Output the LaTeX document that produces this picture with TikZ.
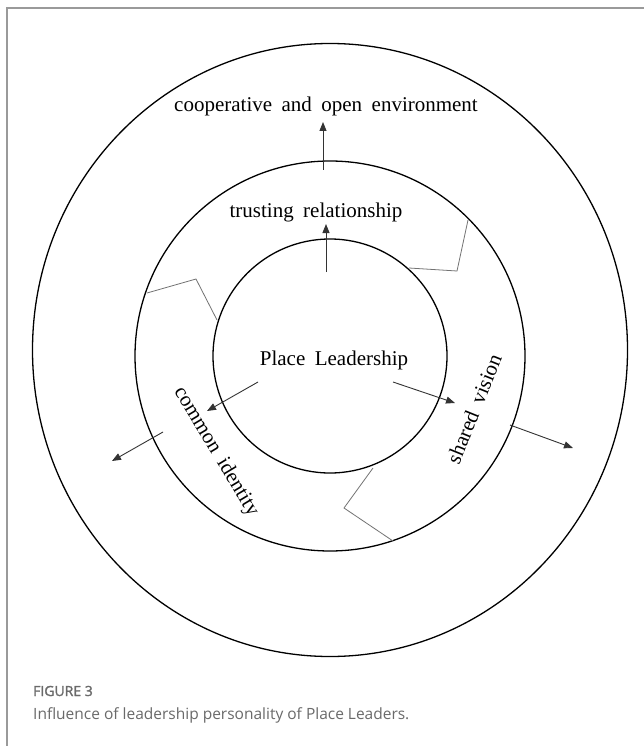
\documentclass[tikz,border=0pt]{standalone}
\usepackage{fontspec}
\setmainfont{Liberation Serif}
\newfontfamily\labelfont[WordSpace=1.8]{Liberation Serif}
\newfontfamily\capfont{Open Sans}
\usetikzlibrary{arrows.meta,shapes.geometric}
\definecolor{framegray}{HTML}{9A9A9A}
\definecolor{capgray}{HTML}{6A6A6A}
\begin{document}
\begin{tikzpicture}[x=1pt,y=-1pt,
  ring/.style={draw=black, line width=1.3pt, inner sep=0pt},
  zig/.style={draw=black!55, line width=0.8pt, line join=miter},
  flow/.style={draw=black!80, line width=0.9pt, -{Triangle[length=9pt,width=7pt]}},
  lab/.style={font=\labelfont\fontsize{21}{24}\selectfont, inner sep=0pt},
  capline/.style={font=\capfont\fontsize{15.5}{18}\selectfont, text=capgray, inner sep=0pt, anchor=base west}]
\useasboundingbox (0,0) rectangle (644,746);
\fill[white] (0,0) rectangle (644,746);
\draw[framegray, line width=1.6pt] (7,746) -- (7,8) -- (644,8);

% three rings
\node[ring, ellipse, minimum width=595pt, minimum height=613pt] (outer) at (330,350) {};
\node[ring, circle, minimum size=390pt] (middle) at (330,356) {};
\node[ring, circle, minimum size=234pt] (inner) at (330,356) {};

% zigzag dividers between the inner and middle ring
\draw[zig] (147,293) -- (196,279) -- (217,320);
\draw[zig] (468,220) -- (457,271) -- (409,268);
\draw[zig] (373,468) -- (344,508) -- (393,541);

% labels
\node[lab, anchor=base] (coop) at (326,112) {cooperative and open environment};
\node[lab, anchor=base] (trust) at (316,217) {trusting relationship};
\node[lab, anchor=base] (place) at (334,365) {Place Leadership};
\node[lab, rotate=-59] (common) at (216,452) {common identity};
\node[lab, rotate=68] (shared) at (474,409) {shared vision};

% arrows
\coordinate (a1s) at (323,170); \coordinate (a1e) at (323,122);
\coordinate (a2s) at (326,272); \coordinate (a2e) at (326,224);
\coordinate (a3s) at (258,382); \coordinate (a3e) at (207,411);
\coordinate (a4s) at (163,432); \coordinate (a4e) at (112,461);
\coordinate (a5s) at (393,382); \coordinate (a5e) at (455,403);
\coordinate (a6s) at (510,425); \coordinate (a6e) at (573,448);
\draw[flow] (a1s) -- (a1e);
\draw[flow] (a2s) -- (a2e);
\draw[flow] (a3s) -- (a3e);
\draw[flow] (a4s) -- (a4e);
\draw[flow] (a5s) -- (a5e);
\draw[flow] (a6s) -- (a6e);

% caption
\node[capline, font=\capfont\fontsize{14}{17}\selectfont\addfontfeatures{FakeBold=1.5}] (fig) at (33,696) {FIGURE 3};
\node[capline] (cap) at (33,719) {Influence of leadership personality of Place Leaders.};
\end{tikzpicture}
\end{document}
